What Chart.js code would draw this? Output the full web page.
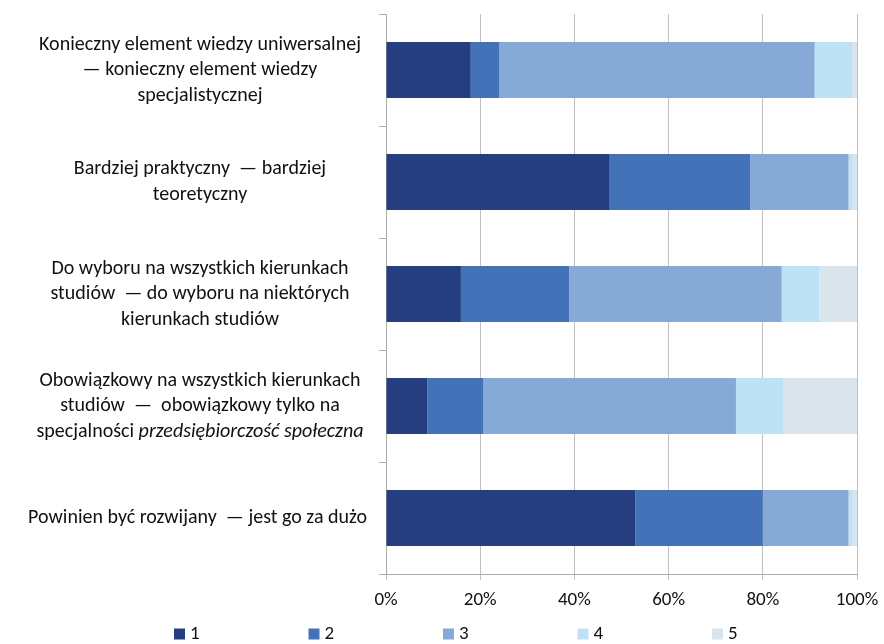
<!DOCTYPE html>
<html>
<head>
<meta charset="utf-8">
<script src="https://cdn.jsdelivr.net/npm/chart.js@4"></script>
<style>
  html, body { margin: 0; padding: 0; background: #fff; }
  #wrap { width: 884px; height: 644px; }
</style>
</head>
<body>
<div id="wrap"><canvas id="myChart"></canvas></div>
<script>
// labels: one array of lines per category, _text_ = italic
const categories = [
  ['Konieczny element wiedzy uniwersalnej', '— konieczny element wiedzy', 'specjalistycznej'],
  ['Bardziej praktyczny  — bardziej', 'teoretyczny'],
  ['Do wyboru na wszystkich kierunkach', 'studiów  — do wyboru na niektórych', 'kierunkach studiów'],
  ['Obowiązkowy na wszystkich kierunkach', 'studiów  —  obowiązkowy tylko na', 'specjalności _przedsiębiorczość społeczna_'],
  ['Powinien być rozwijany  — jest go za dużo']
];
const seriesNames = ['1', '2', '3', '4', '5'];
const s1 = [18, 47.5, 15.9, 8.8, 52.9];
const s2 = [6, 29.8, 23, 11.9, 27.1];
const s3 = [67, 20.9, 45.1, 53.6, 18.2];
const s4 = [8, 0.9, 8, 10, 0.9];
const s5 = [1, 0.9, 8, 15.7, 0.9];
const tickValues = [0, 20, 40, 60, 80, 100];

const colors = ['#253E80', '#4472B8', '#86A9D6', '#BFE1F5', '#DAE4EC'];
const FONT = 'Carlito, Lato, "Open Sans", sans-serif';

const labelPlugin = {
  id: 'multiLabels',
  afterDraw(chart) {
    const ctx = chart.ctx;
    const y = chart.scales.y;
    const size = 20, lh = 25.5;
    ctx.save();
    ctx.fillStyle = '#111';
    ctx.textBaseline = 'middle';
    ctx.textAlign = 'left';
    categories.forEach((lines, i) => {
      const cy = y.getPixelForValue(i);
      const y0 = cy - (lines.length - 1) * lh / 2;
      lines.forEach((line, j) => {
        const parts = line.split('_').map((t, k) => ({ t, it: k % 2 === 1 }));
        let w = 0;
        parts.forEach(p => {
          ctx.font = (p.it ? 'italic ' : '') + size + 'px ' + FONT;
          p.w = ctx.measureText(p.t).width;
          w += p.w;
        });
        const cx = Math.min(200, 367 - w / 2);
        let x = cx - w / 2;
        parts.forEach(p => {
          ctx.font = (p.it ? 'italic ' : '') + size + 'px ' + FONT;
          ctx.fillText(p.t, x, y0 + j * lh);
          x += p.w;
        });
      });
    });
    ctx.restore();
  }
};

const legendPlugin = {
  id: 'bottomLegend',
  afterDraw(chart) {
    const ctx = chart.ctx;
    ctx.save();
    ctx.font = '19px ' + FONT;
    ctx.textBaseline = 'middle';
    chart.data.datasets.forEach((ds, i) => {
      const x = 174 + i * 134.5;
      const yc = 634;
      ctx.fillStyle = ds.backgroundColor;
      ctx.fillRect(x, yc - 5.5, 11, 11);
      ctx.fillStyle = '#111';
      ctx.fillText(ds.label, x + 16, yc);
    });
    ctx.restore();
  }
};

const data = [s1, s2, s3, s4, s5];

new Chart(document.getElementById('myChart'), {
  type: 'bar',
  data: {
    labels: categories.map(l => l.join(' ')),
    datasets: seriesNames.map((name, i) => ({
      label: name,
      data: data[i],
      backgroundColor: colors[i],
      borderWidth: 0,
      categoryPercentage: 1,
      barPercentage: 0.5
    }))
  },
  options: {
    indexAxis: 'y',
    responsive: true,
    maintainAspectRatio: false,
    animation: false,
    layout: { padding: { top: 14, right: 27, bottom: 30, left: 0 } },
    plugins: {
      legend: { display: false },
      tooltip: { enabled: false }
    },
    scales: {
      x: {
        stacked: true,
        min: 0,
        max: 100,
        afterBuildTicks: (scale) => { scale.ticks = tickValues.map(v => ({ value: v })); },
        ticks: {
          callback: (v) => v + '%',
          color: '#111',
          font: { family: FONT, size: 19 },
          padding: 9,
          maxRotation: 0
        },
        grid: { color: '#BFBFBF', tickLength: 6, lineWidth: 1 },
        border: { color: '#ABABAB' },
        afterFit: (scale) => {
          scale.height = 40;
          scale.paddingRight = 0;
          scale.paddingLeft = 0;
        }
      },
      y: {
        stacked: true,
        ticks: { display: false },
        grid: { drawOnChartArea: false, color: '#ABABAB', tickLength: 7, offset: true },
        border: { color: '#ABABAB' },
        afterFit: (scale) => { scale.width = 386; }
      }
    }
  },
  plugins: [labelPlugin, legendPlugin]
});
</script>
</body>
</html>
